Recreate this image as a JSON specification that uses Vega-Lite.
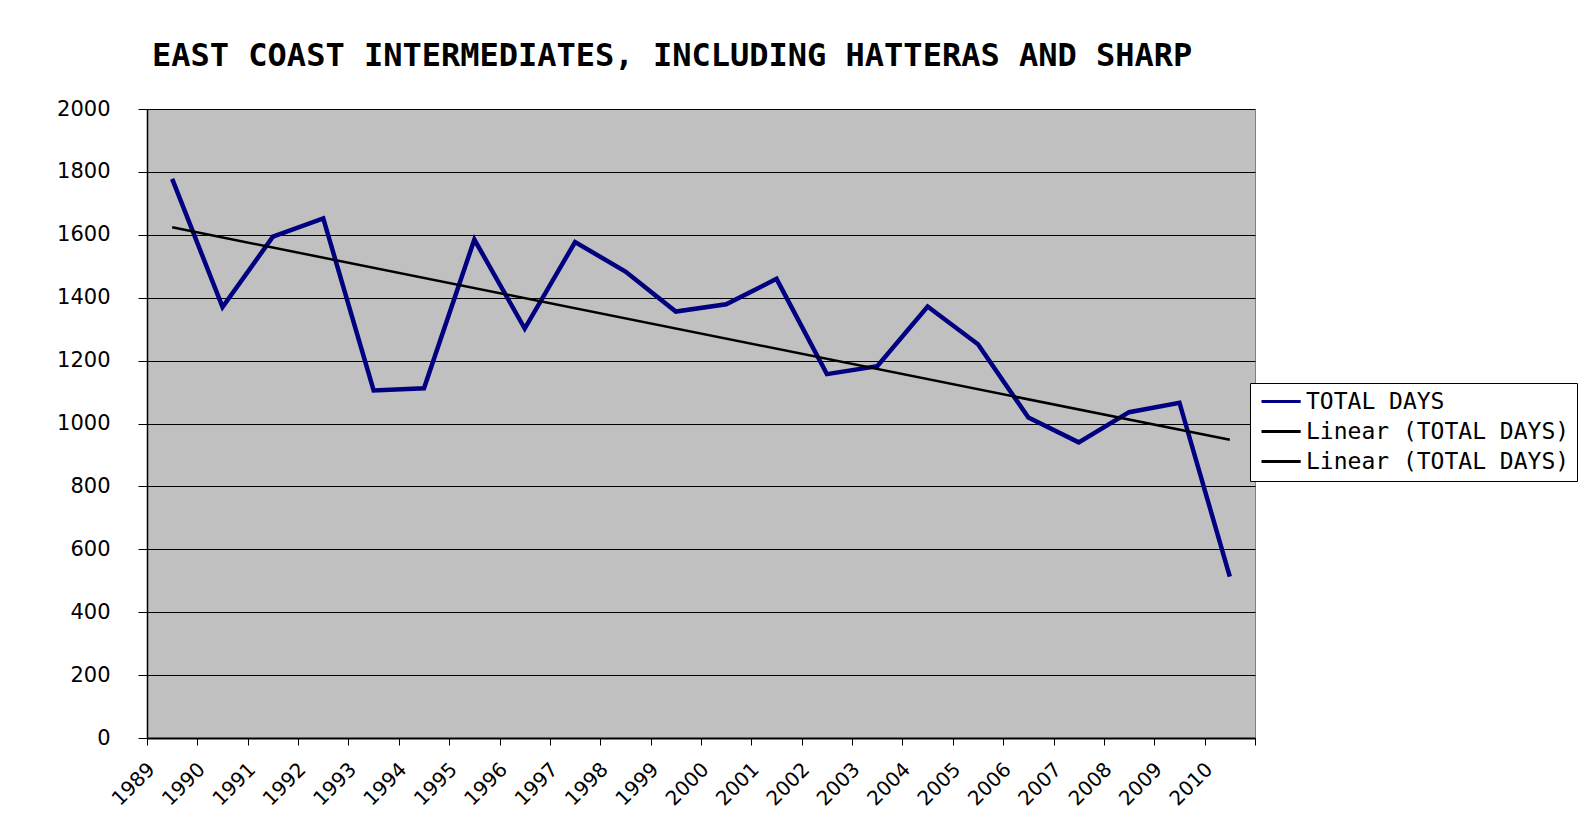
{
  "$schema": "https://vega.github.io/schema/vega-lite/v6.json",
  "width": 1108,
  "height": 629,
  "autosize": {"type": "none"},
  "padding": {"left": 147, "top": 109, "right": 324, "bottom": 95},
  "background": "white",
  "config": {
    "view": {"fill": "#C0C0C0", "stroke": "#808080", "strokeWidth": 1},
    "axis": {"labelFont": "DejaVu Sans", "labelColor": "black", "domainColor": "black", "tickColor": "black", "gridColor": "black", "gridOpacity": 1, "title": null}
  },
  "title": {
    "text": "EAST COAST INTERMEDIATES, INCLUDING HATTERAS AND SHARP",
    "font": "DejaVu Sans Mono", "fontSize": 32, "fontWeight": "bold",
    "anchor": "start", "frame": "group", "dx": 5, "offset": 25, "color": "black"
  },
  "data": {
    "values": [
      {"year": 1989, "days": 1778},
      {"year": 1990, "days": 1370},
      {"year": 1991, "days": 1594},
      {"year": 1992, "days": 1652},
      {"year": 1993, "days": 1105},
      {"year": 1994, "days": 1112},
      {"year": 1995, "days": 1585},
      {"year": 1996, "days": 1302},
      {"year": 1997, "days": 1577},
      {"year": 1998, "days": 1483},
      {"year": 1999, "days": 1356},
      {"year": 2000, "days": 1379},
      {"year": 2001, "days": 1460},
      {"year": 2002, "days": 1157},
      {"year": 2003, "days": 1182},
      {"year": 2004, "days": 1372},
      {"year": 2005, "days": 1252},
      {"year": 2006, "days": 1019},
      {"year": 2007, "days": 940},
      {"year": 2008, "days": 1036},
      {"year": 2009, "days": 1066},
      {"year": 2010, "days": 513}
    ]
  },
  "encoding": {
    "x": {
      "field": "year", "type": "ordinal",
      "scale": {"type": "band", "paddingInner": 0, "paddingOuter": 0},
      "axis": {"labelAngle": -45, "labelAlign": "right", "labelBaseline": "top", "labelFontSize": 20, "labelOffset": -28, "labelPadding": 14, "tickSize": 7, "tickBand": "extent", "domainWidth": 2, "grid": false}
    },
    "y": {
      "field": "days", "type": "quantitative",
      "scale": {"domain": [0, 2000], "nice": false},
      "axis": {"tickCount": 10, "format": "d", "labelFontSize": 21, "labelPadding": 28, "tickSize": 9, "grid": true, "gridWidth": 1, "domainWidth": 1.5}
    }
  },
  "layer": [
    {
      "mark": {"type": "line", "strokeWidth": 4.5},
      "encoding": {
        "color": {
          "datum": "TOTAL DAYS", "type": "nominal",
          "scale": {"domain": ["TOTAL DAYS", "Linear (TOTAL DAYS)", "Linear (TOTAL DAYS) "], "range": ["#000080", "#000000", "#000000"]},
          "legend": {
            "title": null, "orient": "none", "legendX": 1103, "legendY": 274,
            "fillColor": "white", "strokeColor": "black", "padding": 7,
            "labelFont": "DejaVu Sans Mono", "labelFontSize": 23, "labelColor": "black", "labelLimit": 0,
            "symbolType": "M-1,0H4.6", "symbolSize": 196, "symbolStrokeWidth": 3,
            "labelOffset": 26, "rowPadding": 6
          }
        }
      }
    },
    {
      "transform": [{"regression": "days", "on": "year"}],
      "mark": {"type": "line", "strokeWidth": 2.5},
      "encoding": {
        "color": {"datum": "Linear (TOTAL DAYS)", "type": "nominal"}
      }
    }
  ]
}
